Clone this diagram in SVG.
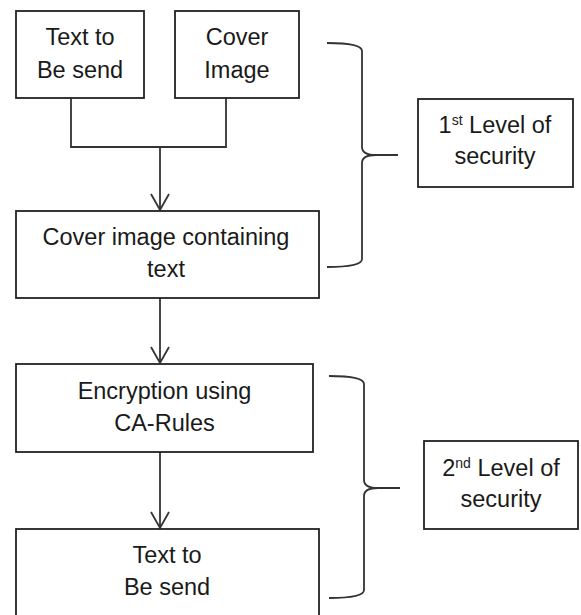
<svg xmlns="http://www.w3.org/2000/svg" width="581" height="615" viewBox="0 0 581 615">
<defs>
<style>
.box{fill:#fff;stroke:#222;stroke-width:1.8}
.t{font-family:"Liberation Sans",Arial,sans-serif;font-size:23.5px;fill:#1a1a1a;text-anchor:middle}
.sup{font-size:14px}
.ln{fill:none;stroke:#333;stroke-width:1.8}
.br{fill:none;stroke:#333;stroke-width:1.8}
</style>
<marker id="arr" viewBox="0 0 20 20" refX="18" refY="10" markerWidth="20" markerHeight="20" markerUnits="userSpaceOnUse" orient="auto">
<path d="M2,1 L18,10 L2,19" fill="none" stroke="#333" stroke-width="1.8"/>
</marker>
</defs>
<rect width="581" height="615" fill="#fff"/>
<g id="connectors">
<path class="ln" d="M71,98 L71,147 L226,147 L226,98"/>
<path class="ln" d="M160,147 L160,210" marker-end="url(#arr)"/>
<path class="ln" d="M160,298 L160,363" marker-end="url(#arr)"/>
<path class="ln" d="M160,452 L160,528" marker-end="url(#arr)"/>
<path class="br" d="M327,43 Q362,43 362,51 L362,147 Q362,155 376,155 L398,155 M376,155 Q362,155 362,163 L362,259 Q362,267 327,267"/>
<path class="br" d="M329,376 Q364,376 364,384 L364,480 Q364,488 378,488 L400,488 M378,488 Q364,488 364,496 L364,590 Q364,598 329,598"/>
</g>
<g id="n1">
<rect class="box" x="16" y="11" width="128" height="87"/>
<text class="t" x="80" y="45">Text to</text>
<text class="t" x="80" y="78">Be send</text>
</g>
<g id="n2">
<rect class="box" x="175" y="11" width="124" height="87"/>
<text class="t" x="237" y="45">Cover</text>
<text class="t" x="237" y="78">Image</text>
</g>
<g id="n3">
<rect class="box" x="16" y="211" width="303" height="87"/>
<text class="t" x="166" y="245">Cover image containing</text>
<text class="t" x="166" y="277">text</text>
</g>
<g id="n4">
<rect class="box" x="16" y="364" width="297" height="88"/>
<text class="t" x="164.5" y="399">Encryption using</text>
<text class="t" x="164.5" y="431">CA-Rules</text>
</g>
<g id="n5">
<rect class="box" x="16" y="529" width="303" height="100"/>
<text class="t" x="167" y="563">Text to</text>
<text class="t" x="167" y="595">Be send</text>
</g>
<g id="l1">
<rect class="box" x="418" y="99" width="155" height="88"/>
<text class="t" x="495" y="133">1<tspan class="sup" dy="-8">st</tspan><tspan dy="8"> Level of</tspan></text>
<text class="t" x="495" y="164">security</text>
</g>
<g id="l2">
<rect class="box" x="424" y="441" width="154" height="88"/>
<text class="t" x="501" y="476">2<tspan class="sup" dy="-8">nd</tspan><tspan dy="8"> Level of</tspan></text>
<text class="t" x="501" y="507">security</text>
</g>
</svg>
